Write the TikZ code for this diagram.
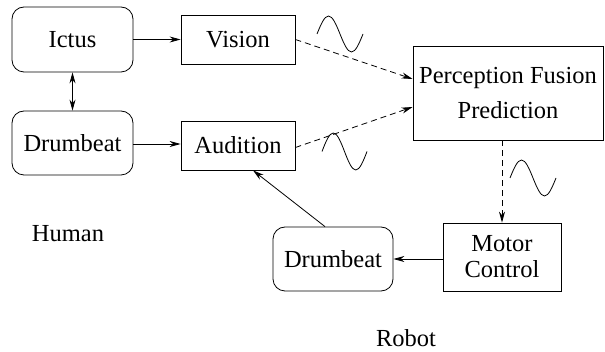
\documentclass[tikz,border=0pt]{standalone}
\usepackage{fontspec}
\setmainfont{Liberation Serif}
\newfontfamily\timesfont{Liberation Serif}
\usetikzlibrary{arrows.meta}

\begin{document}
\begin{tikzpicture}[x=1pt, y=-1pt, >={Stealth[length=11pt, width=6pt]}, line width=0.8pt,
      every node/.style={font=\timesfont\fontsize{24.5}{29}\selectfont},
      rbox/.style={draw, rounded corners=12pt, align=center, inner sep=0pt},
      sbox/.style={draw, align=center, inner sep=0pt},
      arr/.style={->},
      darr/.style={->, dashed, dash pattern=on 6pt off 4pt},
      wave/.style={line width=0.8pt},
      lbl/.style={anchor=base}]

    \useasboundingbox (0,0) rectangle (605,352);

    % human side
    \node[rbox, minimum width=121pt, minimum height=65pt] (ictus) at (72.5, 39.5) {Ictus};
    \node[rbox, minimum width=121pt, minimum height=64pt] (hdrum) at (72.5, 143) {Drumbeat};
    \node[lbl] (human) at (68, 242) {Human};

    % senses
    \node[sbox, minimum width=114pt, minimum height=49pt] (vis) at (238, 39.5) {Vision};
    \node[sbox, minimum width=114pt, minimum height=49pt] (aud) at (238, 145.5) {Audition};

    % robot side
    \node[sbox, minimum width=190pt, minimum height=94pt] (perc) at (508, 93)
      {Perception Fusion\\[6pt]Prediction};
    \node[sbox, minimum width=118pt, minimum height=68pt] (mot) at (502, 257)
      {Motor\\[-3pt]Control};
    \node[rbox, minimum width=120pt, minimum height=64pt] (rdrum) at (333, 259) {Drumbeat};
    \node[lbl] (robot) at (406, 347) {Robot};

    \draw[arr] (ictus.east) -- (vis.west);
    \draw[<->] (ictus.south) -- (hdrum.north);
    \draw[arr] (hdrum.east |- 0,144) -- (aud.west |- 0,144);

    \draw[darr] (vis.east) -- ([yshift=14pt]perc.west);
    \draw[darr] ([yshift=-2pt]aud.east) -- ([yshift=-14pt]perc.west);
    \draw[darr] (perc.south -| mot.north) -- (mot.north);

    \draw[arr] (mot.west |- rdrum.east) -- (rdrum.east);
    \draw[arr] ([xshift=-8pt]rdrum.north) -- ([xshift=15pt]aud.south);

    % signal waves
    \draw[wave] (317,34) sin (328.5,16) cos (340,34) sin (351.5,52) cos (363,34);
    \draw[wave] (322,151.5) sin (333.25,133) cos (344.5,151.5) sin (355.75,170) cos (367,151.5);
    \draw[wave] (510,178) sin (521.5,160) cos (533,178) sin (544.5,196) cos (556,178);

\end{tikzpicture}
\end{document}
